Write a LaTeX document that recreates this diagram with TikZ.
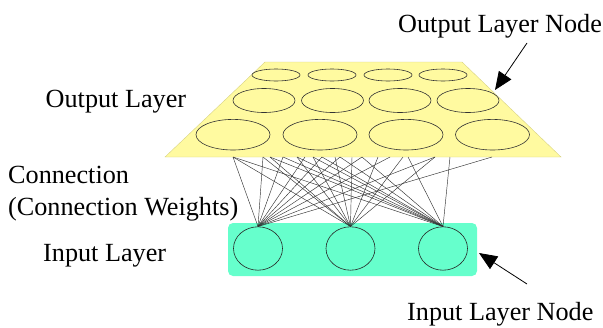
\documentclass[tikz,border=0pt]{standalone}
\usepackage{fontspec}
\setmainfont{Liberation Serif}
\usetikzlibrary{shapes.geometric,arrows.meta}
\definecolor{outyellow}{RGB}{255,250,160}
\definecolor{outedge}{RGB}{215,210,130}
\definecolor{inteal}{RGB}{102,255,204}
\begin{document}
\begin{tikzpicture}[x=1pt,y=-1pt,
  lbl/.style={font=\fontsize{26.2}{30}\selectfont, inner sep=0pt, anchor=base west},
  onode/.style={ellipse, draw=black!80, line width=0.6pt, inner sep=0pt},
  inode/.style={ellipse, draw=black!85, line width=0.6pt, minimum width=49pt, minimum height=43.4pt, inner sep=0pt},
  conn/.style={line width=0.45pt, draw=black!80},
  callout/.style={line width=0.8pt, -{Triangle[length=18pt,width=15pt]}}]
\useasboundingbox (0,0) rectangle (603,327);

% output layer plane
\path[fill=outyellow, draw=outedge, line width=0.4pt] (265,62) -- (462,62) -- (561,157) -- (165,157) -- cycle;

% output layer nodes
\foreach \x [count=\i] in {276,332,388,443}
  \node[onode, minimum width=48pt, minimum height=12pt] (o1\i) at (\x,75) {};
\foreach \x [count=\i] in {264,332.5,400,468}
  \node[onode, minimum width=62pt, minimum height=24pt] (o2\i) at (\x,100.5) {};
\foreach \x [count=\i] in {233,320,406,492.5}
  \node[onode, minimum width=74pt, minimum height=30.6pt] (o3\i) at (\x,134.7) {};

% input layer
\path[fill=inteal, rounded corners=5pt] (228,223) rectangle (477,276);
\node[inode] (i1) at (258,248.5) {};
\node[inode] (i2) at (350.5,248.5) {};
\node[inode] (i3) at (443,248.5) {};

% connection origins on the plane's lower edge
\foreach \x in {233,263,270,283,297,305,313,322,335,340,352,362,378,390,403,408,435,450,492}
  \coordinate (c\x) at (\x,157);

% connections
\foreach \x in {233,263,283,305,322,340,362,390,435,492}
  \draw[conn] (c\x) -- (i1.north);
\foreach \x in {233,263,270,297,313,335,352,378,403,435}
  \draw[conn] (c\x) -- (i2.north);
\foreach \x in {233,270,283,297,313,322,340,362,408,450}
  \draw[conn] (c\x) -- (i3.north);

% labels
\node[lbl] (tout) at (45.5,107) {Output Layer};
\node[lbl] (tconn) at (8,183.3) {Connection};
\node[lbl] (tweights) at (8,215) {(Connection Weights)};
\node[lbl] (tin) at (43,261.7) {Input Layer};
\node[lbl] (toutnode) at (398,32) {Output Layer Node};
\node[lbl] (tinnode) at (407,320) {Input Layer Node};

% callout arrows
\coordinate (aos) at (527,43);
\coordinate (aot) at (495,90);
\draw[callout] (aos) -- (aot);
\coordinate (ais) at (527,284);
\coordinate (ait) at (479,253);
\draw[callout] (ais) -- (ait);
\end{tikzpicture}
\end{document}
